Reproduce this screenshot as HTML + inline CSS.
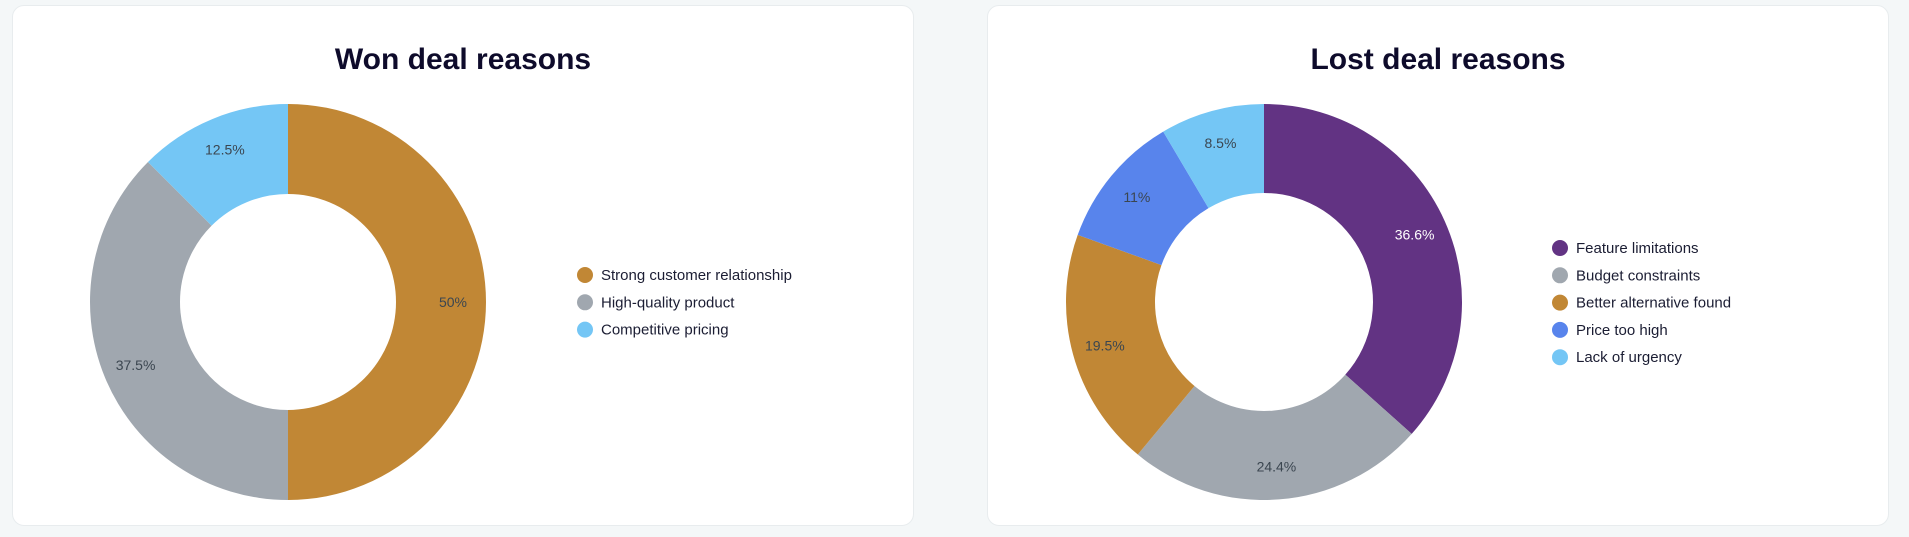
<!DOCTYPE html>
<html><head><meta charset="utf-8"><style>
html,body{margin:0;padding:0;width:1909px;height:537px;background:#f4f7f8;overflow:hidden;font-family:"Liberation Sans",sans-serif}
.card{position:absolute;top:5px;height:521px;background:#fff;border:1px solid #e8ecee;border-radius:12px;box-sizing:border-box}
svg{position:absolute;left:0;top:0}
</style></head><body>
<div class="card" style="left:12px;width:902px"></div>
<div class="card" style="left:987px;width:902px"></div>
<svg id="chart" width="1909" height="537">
<text x="463" y="69" text-anchor="middle" font-size="30" font-weight="bold" fill="#0e0b2b">Won deal reasons</text>
<text x="1438" y="69" text-anchor="middle" font-size="30" font-weight="bold" fill="#0e0b2b">Lost deal reasons</text>
</svg>
<script>
const wonLabels=["Strong customer relationship","High-quality product","Competitive pricing"];
const wonValues=[50,37.5,12.5];
const wonColors=["#c18735","#a0a7af","#74c6f5"];
const lostLabels=["Feature limitations","Budget constraints","Better alternative found","Price too high","Lack of urgency"];
const lostValues=[36.6,24.4,19.5,11,8.5];
const lostColors=["#623383","#a0a7af","#c18735","#5884ec","#74c6f5"];
const NS="http://www.w3.org/2000/svg";
const svg=document.getElementById('chart');
function donut(cx,cy,R,r,labels,values,colors,lx,ly,key,whiteFirst){
  const total=values.reduce((a,b)=>a+b,0);
  let a0=0;
  values.forEach((v,i)=>{
    const a1=a0+v/total*2*Math.PI;
    const p=(a,rad)=>[cx+rad*Math.sin(a),cy-rad*Math.cos(a)];
    const [x0,y0]=p(a0,R),[x1,y1]=p(a1,R),[x2,y2]=p(a1,r),[x3,y3]=p(a0,r);
    const lg=(a1-a0)>Math.PI?1:0;
    const path=document.createElementNS(NS,'path');
    path.setAttribute('d',`M${x0},${y0}A${R},${R} 0 ${lg} 1 ${x1},${y1}L${x2},${y2}A${r},${r} 0 ${lg} 0 ${x3},${y3}Z`);
    path.setAttribute('fill',colors[i]);
    
    
    svg.appendChild(path);
    const am=(a0+a1)/2;const [tx,ty]=p(am,165);
    const t=document.createElementNS(NS,'text');
    t.setAttribute('x',tx);t.setAttribute('y',ty+5);
    t.setAttribute('text-anchor','middle');t.setAttribute('font-size','14');
    t.setAttribute('fill',(whiteFirst&&i===0)?'#fff':'#3b4650');
    t.textContent=v+'%';
    
    
    svg.appendChild(t);
    const c=document.createElementNS(NS,'circle');
    c.setAttribute('cx',lx);c.setAttribute('cy',ly+i*27.3);c.setAttribute('r',8);c.setAttribute('fill',colors[i]);
    
    
    svg.appendChild(c);
    const lt=document.createElementNS(NS,'text');
    lt.setAttribute('x',lx+16);lt.setAttribute('y',ly+i*27.3+5);lt.setAttribute('font-size','15');lt.setAttribute('fill','#1b1d33');
    lt.textContent=labels[i];
    
    
    svg.appendChild(lt);
    a0=a1;
  });
}
donut(288,302,198,108,wonLabels,wonValues,wonColors,585,275,'won',false);
donut(1264,302,198,109,lostLabels,lostValues,lostColors,1560,248,'lost',true);
</script>
</body></html>
